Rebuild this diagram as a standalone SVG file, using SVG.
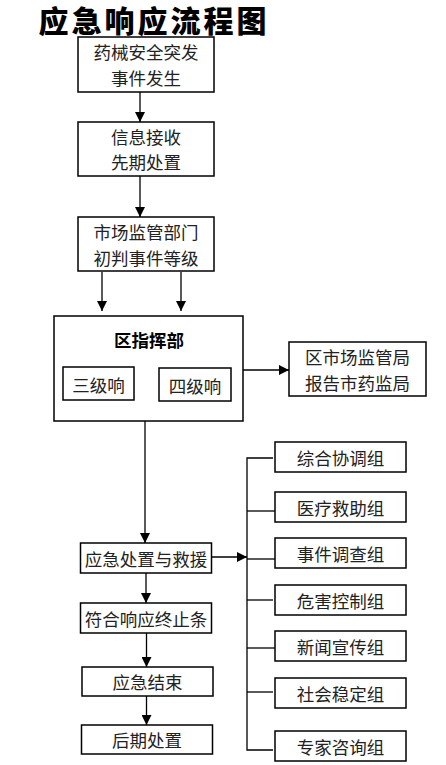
<svg xmlns="http://www.w3.org/2000/svg" width="446" height="765" viewBox="0 0 446 765">
<defs>
<marker id="ah" markerUnits="userSpaceOnUse" markerWidth="10" markerHeight="10" refX="10" refY="5" orient="auto">
<path d="M0,0 L10,5 L0,10 z" fill="#000"/>
</marker>
<style>
rect{fill:#fff;stroke:#000;stroke-width:1.5}
text{font-family:"Noto Sans CJK SC","Noto Sans",sans-serif;font-size:17.5px;fill:#222;text-anchor:middle;dominant-baseline:central}
.title{font-size:30px;font-weight:900;fill:#000;letter-spacing:3px;dominant-baseline:auto}
.bold{font-weight:bold;fill:#000}
.c line,.c polyline{stroke:#000;stroke-width:1.3;fill:none}
.a{marker-end:url(#ah)}
</style>
</defs>
<rect width="446" height="765" style="fill:#fff;stroke:none"/>
<text class="title" x="154" y="32">应急响应流程图</text>
<g id="n1"><rect x="78" y="37" width="136" height="55"/><text x="146" y="51">药械安全突发</text><text x="146" y="77">事件发生</text></g>
<g id="n2"><rect x="78" y="122" width="136" height="54"/><text x="146" y="136">信息接收</text><text x="146" y="161">先期处置</text></g>
<g id="n3"><rect x="78" y="217" width="136" height="54"/><text x="146" y="231">市场监管部门</text><text x="146" y="257">初判事件等级</text></g>
<g id="n4"><rect x="54" y="316" width="189" height="105"/><text class="bold" x="149" y="339">区指挥部</text></g>
<g id="n5"><rect x="63" y="367" width="71" height="33"/><text x="98.5" y="384">三级响</text></g>
<g id="n6"><rect x="159" y="368" width="72" height="33"/><text x="195" y="385">四级响</text></g>
<g id="n7"><rect x="289" y="342" width="137" height="54"/><text x="357.5" y="356">区市场监管局</text><text x="357.5" y="382">报告市药监局</text></g>
<g id="n8"><rect x="80.5" y="543" width="131" height="30"/><text x="146" y="558">应急处置与救援</text></g>
<g id="n9"><rect x="80.5" y="603" width="131" height="30"/><text x="146" y="618">符合响应终止条</text></g>
<g id="n10"><rect x="82" y="667" width="131" height="29"/><text x="147.5" y="681.5">应急结束</text></g>
<g id="n11"><rect x="81.5" y="725" width="131" height="29"/><text x="147" y="739.5">后期处置</text></g>
<g id="g1"><rect x="275" y="442" width="131" height="30"/><text x="340.5" y="457">综合协调组</text></g>
<g id="g2"><rect x="275" y="492" width="131" height="30"/><text x="340.5" y="507">医疗救助组</text></g>
<g id="g3"><rect x="275" y="538" width="131" height="30"/><text x="340.5" y="553">事件调查组</text></g>
<g id="g4"><rect x="275" y="585" width="131" height="30"/><text x="340.5" y="600">危害控制组</text></g>
<g id="g5"><rect x="275" y="631" width="131" height="30"/><text x="340.5" y="646">新闻宣传组</text></g>
<g id="g6"><rect x="275" y="678" width="131" height="30"/><text x="340.5" y="693">社会稳定组</text></g>
<g id="g7"><rect x="275" y="731" width="131" height="30"/><text x="340.5" y="746">专家咨询组</text></g>
<g id="connectors" class="c">
<line class="a" x1="140" y1="92" x2="140" y2="122"/>
<line class="a" x1="140" y1="176" x2="140" y2="217"/>
<line class="a" x1="102" y1="272" x2="102" y2="311"/>
<line class="a" x1="181" y1="272" x2="181" y2="311"/>
<line class="a" x1="243" y1="370" x2="289" y2="370"/>
<line class="a" x1="145" y1="421" x2="145" y2="543"/>
<line class="a" x1="146" y1="573" x2="146" y2="603"/>
<line class="a" x1="146.5" y1="633" x2="146.5" y2="667"/>
<line class="a" x1="146.5" y1="696" x2="146.5" y2="725"/>
<line class="a" x1="211.5" y1="557" x2="247" y2="557"/>
<polyline points="273,458 247,458 247,750 273,750"/>
<line x1="247" y1="511" x2="275" y2="511"/>
<line x1="247" y1="559" x2="275" y2="559"/>
<line x1="247" y1="600" x2="273" y2="600"/>
<line x1="247" y1="648" x2="275" y2="648"/>
<line x1="247" y1="692" x2="273" y2="692"/>
</g>
</svg>
